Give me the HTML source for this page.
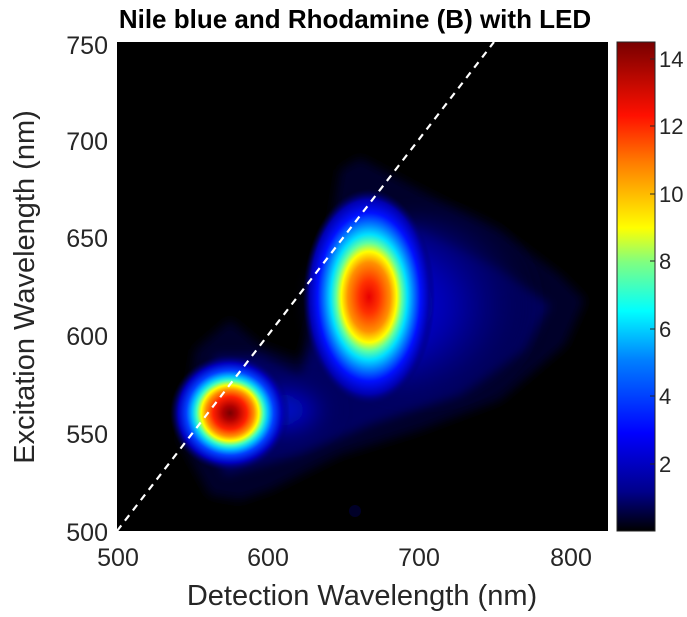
<!DOCTYPE html>
<html><head><meta charset="utf-8"><style>
body{margin:0;background:#fff;width:687px;height:612px;overflow:hidden}
text{font-family:"Liberation Sans",Arial,sans-serif}
</style></head><body>
<svg width="687" height="612" viewBox="0 0 687 612">
<defs>
<radialGradient id="b1" cx="0.5" cy="0.5" r="0.5">
<stop offset="0" stop-color="#7a0000"/>
<stop offset="0.12" stop-color="#b00000"/>
<stop offset="0.28" stop-color="#ff2000"/>
<stop offset="0.4" stop-color="#ff9000"/>
<stop offset="0.48" stop-color="#ffff00"/>
<stop offset="0.56" stop-color="#40ffc0"/>
<stop offset="0.63" stop-color="#00c0ff"/>
<stop offset="0.73" stop-color="#0040ff"/>
<stop offset="0.86" stop-color="#0000c0"/>
<stop offset="1" stop-color="#000060" stop-opacity="0"/>
</radialGradient>
<radialGradient id="b2" cx="0.5" cy="0.5" r="0.5">
<stop offset="0" stop-color="#e80000"/>
<stop offset="0.15" stop-color="#ff3000"/>
<stop offset="0.32" stop-color="#ff9000"/>
<stop offset="0.42" stop-color="#ffff00"/>
<stop offset="0.5" stop-color="#60ffa0"/>
<stop offset="0.58" stop-color="#00e0ff"/>
<stop offset="0.67" stop-color="#0080ff"/>
<stop offset="0.78" stop-color="#0010ff"/>
<stop offset="0.9" stop-color="#0000b0"/>
<stop offset="1" stop-color="#000060" stop-opacity="0"/>
</radialGradient>
<radialGradient id="hb" cx="0.3" cy="0.5" r="0.7">
<stop offset="0" stop-color="#0020ff"/>
<stop offset="0.4" stop-color="#0000c0"/>
<stop offset="0.7" stop-color="#000070" stop-opacity="0.7"/>
<stop offset="1" stop-color="#000020" stop-opacity="0"/>
</radialGradient>
<radialGradient id="hb2" cx="0.5" cy="0.5" r="0.5">
<stop offset="0" stop-color="#0020ff"/>
<stop offset="0.5" stop-color="#0000b0"/>
<stop offset="1" stop-color="#000030" stop-opacity="0"/>
</radialGradient>
<linearGradient id="cb" x1="0" y1="1" x2="0" y2="0">
<stop offset="0" stop-color="#000000"/>
<stop offset="0.08" stop-color="#00008a"/>
<stop offset="0.2" stop-color="#0000ff"/>
<stop offset="0.35" stop-color="#0080ff"/>
<stop offset="0.45" stop-color="#00ffff"/>
<stop offset="0.55" stop-color="#80ff80"/>
<stop offset="0.62" stop-color="#ffff00"/>
<stop offset="0.75" stop-color="#ff8000"/>
<stop offset="0.85" stop-color="#ff1000"/>
<stop offset="1" stop-color="#780000"/>
</linearGradient>
<filter id="bl"><feGaussianBlur stdDeviation="5"/></filter>
<filter id="bl2"><feGaussianBlur stdDeviation="10"/></filter>
<clipPath id="cp"><rect x="117" y="42" width="491" height="489"/></clipPath>
</defs>
<text x="355" y="28" font-size="26" font-weight="bold" text-anchor="middle">Nile blue and Rhodamine (B) with LED</text>
<rect x="117" y="42" width="491" height="489" fill="#000"/>
<g clip-path="url(#cp)">
<path d="M210,495 L180,440 L195,350 L230,320 L260,345 L300,360 L325,260 L340,170 L360,158 L420,190 L500,230 L560,275 L585,300 L565,345 L500,400 L420,430 L340,455 L270,490 L240,500 Z" fill="#00002a" filter="url(#bl)"/>
<path d="M225,475 L200,420 L215,355 L260,355 L300,375 L335,290 L350,210 L420,230 L500,270 L550,305 L525,350 L460,395 L370,425 L300,455 Z" fill="#000060" filter="url(#bl)"/>
<g filter="url(#bl2)">
<ellipse cx="430" cy="305" rx="115" ry="90" fill="url(#hb)" opacity="0.85"/>
<ellipse cx="285" cy="410" rx="55" ry="35" fill="url(#hb2)" opacity="0.8"/>
</g>
<circle cx="355" cy="511" r="6" fill="#000028"/>
<ellipse cx="369" cy="297" rx="66" ry="108" fill="url(#b2)"/>
<ellipse cx="230" cy="413" rx="60" ry="58" fill="url(#b1)"/>
<line x1="117" y1="531" x2="494" y2="42" stroke="#fff" stroke-width="2.2" stroke-dasharray="7,6"/>
</g>
<g font-size="25" fill="#262626" text-anchor="middle">
<text x="118" y="566">500</text><text x="268" y="566">600</text><text x="419" y="566">700</text><text x="571" y="566">800</text>
</g>
<g font-size="25" fill="#262626" text-anchor="end">
<text x="108" y="541">500</text><text x="108" y="443">550</text><text x="108" y="345">600</text><text x="108" y="247">650</text><text x="108" y="150">700</text><text x="108" y="54">750</text>
</g>
<text x="362" y="605" font-size="29" fill="#262626" text-anchor="middle">Detection Wavelength (nm)</text>
<text transform="translate(34,287) rotate(-90)" font-size="29" fill="#262626" text-anchor="middle">Excitation Wavelength (nm)</text>
<rect x="617" y="42" width="38" height="489" fill="url(#cb)" stroke="#262626" stroke-width="1"/>
<g stroke="#262626"><line x1="650" y1="59" x2="655" y2="59"/><line x1="650" y1="126" x2="655" y2="126"/><line x1="650" y1="194" x2="655" y2="194"/><line x1="650" y1="261" x2="655" y2="261"/><line x1="650" y1="329" x2="655" y2="329"/><line x1="650" y1="396" x2="655" y2="396"/><line x1="650" y1="464" x2="655" y2="464"/></g>
<g font-size="22" fill="#262626">
<text x="659" y="67">14</text><text x="659" y="134">12</text><text x="659" y="202">10</text><text x="659" y="269">8</text><text x="659" y="337">6</text><text x="659" y="404">4</text><text x="659" y="472">2</text>
</g>
</svg>
</body></html>
